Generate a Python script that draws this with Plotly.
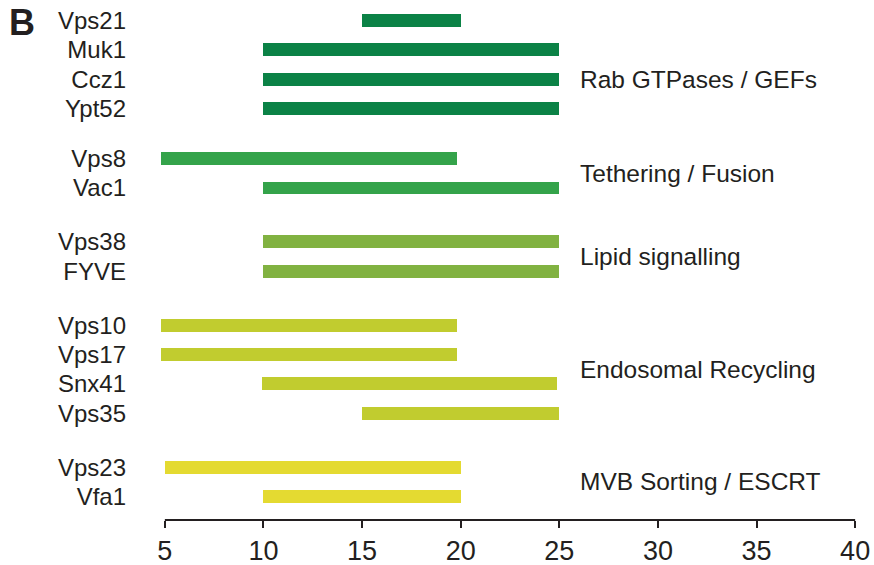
import plotly.graph_objects as go

# ---- data ----
groups = ["Rab GTPases / GEFs", "Tethering / Fusion", "Lipid signalling",
          "Endosomal Recycling", "MVB Sorting / ESCRT"]
genes = [
    ["Vps21", "Muk1", "Ccz1", "Ypt52"],
    ["Vps8", "Vac1"],
    ["Vps38", "FYVE"],
    ["Vps10", "Vps17", "Snx41", "Vps35"],
    ["Vps23", "Vfa1"],
]
starts = [
    [15, 10, 10, 10],
    [4.8, 10],
    [10, 10],
    [4.8, 4.8, 9.9, 15],
    [5, 10],
]
ends = [
    [20, 25, 25, 25],
    [19.8, 25],
    [25, 25],
    [19.8, 19.8, 24.9, 25],
    [20, 20],
]
x_ticks = [5, 10, 15, 20, 25, 30, 35, 40]

# ---- style ----
colors = ["#0b8246", "#34a34a", "#81b241", "#c1cc2f", "#e4da31"]
group_gap = [0.0, 0.71, 0.84, 0.84, 0.84]   # extra spacing before each group (rows)
label_row = [2.0, 0.5, 0.5, 1.5, 0.5]       # label row within each group
text_col = "#231f20"
FONT = "Liberation Sans, Arial, sans-serif"

fig = go.Figure()
tickvals, ticktext = [], []
row = 0.0
annotations = []
for gi, g in enumerate(groups):
    row += group_gap[gi]
    ys = []
    for gene in genes[gi]:
        ys.append(row)
        tickvals.append(row)
        ticktext.append(gene)
        row += 1
    fig.add_trace(go.Bar(
        orientation="h",
        y=ys,
        base=starts[gi],
        x=[e - s for s, e in zip(starts[gi], ends[gi])],
        width=0.443,
        marker=dict(color=colors[gi], line=dict(width=0)),
        showlegend=False,
        hoverinfo="skip",
    ))
    annotations.append(dict(
        x=25.95, y=ys[0] + label_row[gi], xref="x", yref="y",
        text=g, showarrow=False, xanchor="left", yanchor="middle",
        font=dict(size=24.5, color=text_col, family=FONT),
    ))

annotations.append(dict(
    x=-0.209, y=1.0, xref="paper", yref="paper", text="<b>B</b>",
    showarrow=False, xanchor="left", yanchor="top",
    font=dict(size=36, color=text_col, family=FONT),
))

fig.update_layout(
    width=874, height=565,
    margin=dict(l=155, r=9, t=0, b=45),
    plot_bgcolor="white", paper_bgcolor="white",
    bargap=0,
    annotations=annotations,
    shapes=[dict(type="line", xref="x", yref="paper", x0=5, x1=40, y0=0, y1=0,
                 line=dict(color=text_col, width=2))],
    xaxis=dict(
        range=[4.5, 40.5], tickvals=x_ticks, ticktext=[str(v) for v in x_ticks],
        showgrid=False, zeroline=False, showline=False,
        ticks="outside", ticklen=7, tickwidth=2, tickcolor=text_col,
        tickfont=dict(size=27, color=text_col, family=FONT),
    ),
    yaxis=dict(
        range=[17.03, -0.70], tickvals=tickvals, ticktext=ticktext,
        showgrid=False, zeroline=False, showline=False, ticks="",
        ticklabelstandoff=28,
        tickfont=dict(size=24, color=text_col, family=FONT),
    ),
)

fig.write_html(
    "out.html",
    config={"displayModeBar": False},
    post_script="document.body.style.margin='0';document.body.style.overflow='hidden';",
)
